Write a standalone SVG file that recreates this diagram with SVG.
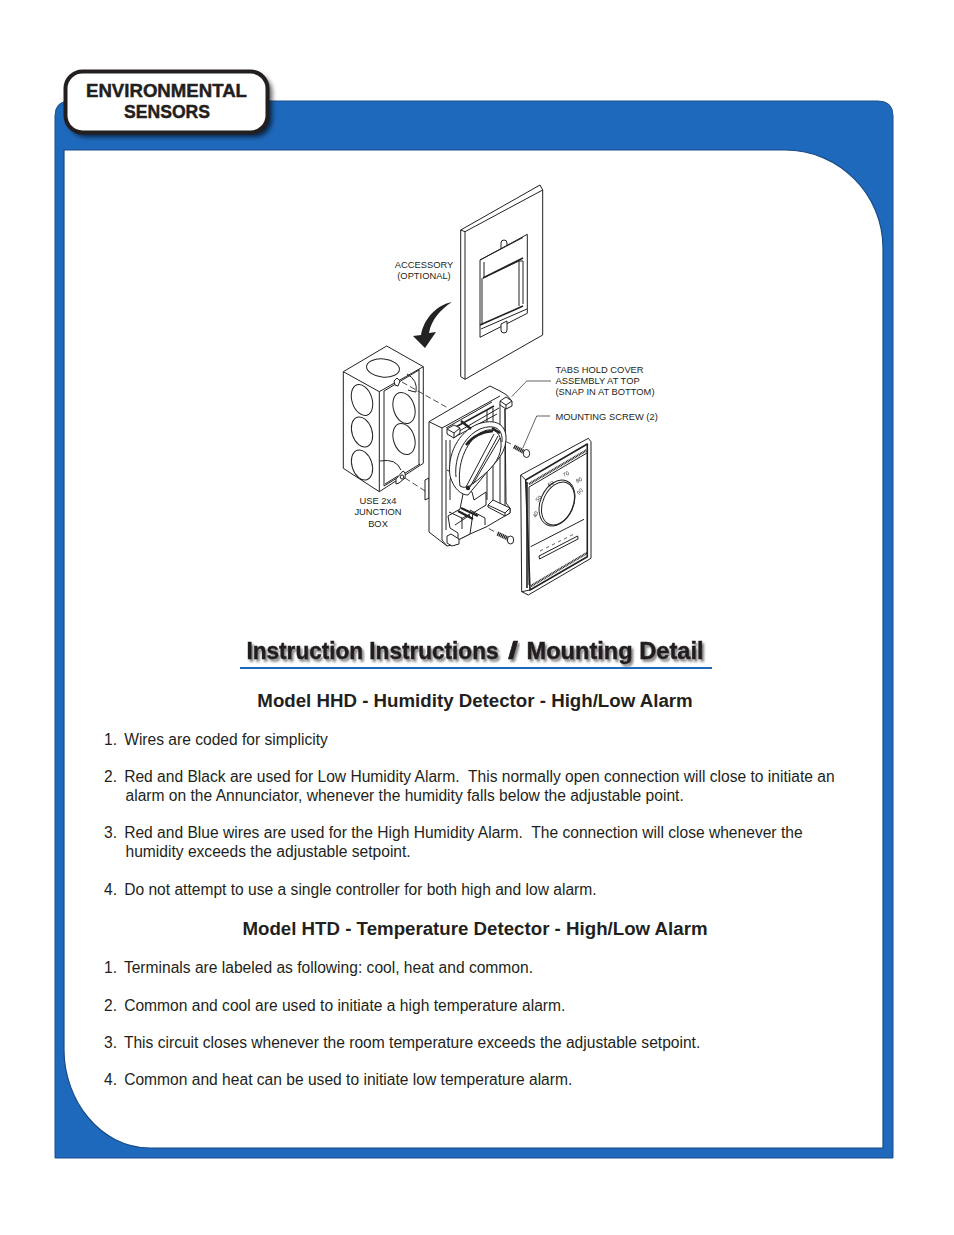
<svg xmlns="http://www.w3.org/2000/svg" width="954" height="1235" viewBox="0 0 954 1235">
<defs>
<filter id="sh" x="-20%" y="-30%" width="140%" height="160%"><feGaussianBlur stdDeviation="2.5"/></filter>
<filter id="tsh" x="-5%" y="-30%" width="110%" height="170%"><feDropShadow dx="2" dy="2.500" stdDeviation="1.300" flood-color="#000" flood-opacity=".5"/></filter>
<filter id="soft" x="-2%" y="-2%" width="104%" height="104%"><feGaussianBlur stdDeviation=".35"/></filter>
</defs>
<style>
text{font-family:"Liberation Sans",Arial,sans-serif;fill:#231f20}
.b{font-size:15.600px;white-space:pre}
.h{font-size:18.700px;font-weight:bold;text-anchor:middle}
.s{font-size:9.350px;text-anchor:middle}
.l{font-size:9.350px}
.t{font-size:23.500px;font-weight:bold;stroke:#231f20;stroke-width:.45;filter:url(#tsh)}
.e{font-size:18.500px;font-weight:bold;stroke:#231f20;stroke-width:.45}
.a path,.a line,.a ellipse{fill:none;stroke:#222;stroke-width:1;stroke-linejoin:round}
.a .f{fill:#fff}
.a .k{fill:#222;stroke:none}
.a .d{stroke-dasharray:6 3;stroke-width:.8}
.a .n{stroke-width:.7}
.a .w{stroke-width:1.600}
.a .x{stroke-width:2.400}
.a .sw{stroke-width:4.200;stroke-dasharray:1.300 .5}
.m{font-size:5.500px}
</style>
<rect width="954" height="1235" fill="#fff"/>
<g id="panel">
<path d="M55 116Q55 101 70 101H878Q893 101 893 116V1158H55Z" fill="#1f69bc" stroke="#1b4f8c" stroke-width="1"/>
<path d="M64 150H785C840 150 883 195 883 248V1148H150C100 1148 64 1100 64 1050Z" fill="#fff" stroke="#174a85" stroke-width="1.200"/>
</g>
<g id="tab">
<rect x="69" y="75" width="203" height="62" rx="17" fill="#000" opacity=".65" filter="url(#sh)"/>
<rect x="65.500" y="71.500" width="202" height="61" rx="17" fill="#fff" stroke="#231f20" stroke-width="4"/>
<text class="e" x="86" y="97" textLength="161" lengthAdjust="spacingAndGlyphs">ENVIRONMENTAL</text>
<text class="e" x="124" y="118" textLength="86" lengthAdjust="spacingAndGlyphs">SENSORS</text>
</g>
<g id="illustration" class="a" filter="url(#soft)">
<g id="plate">
<path class="f" d="M460.700 230L540 185L542.700 190V335L465 379.300L460.700 376.700Z"/>
<path d="M460.700 230L465 231.700L542.700 190M465 231.700V379.300"/>
<path d="M501 249V243Q501 240 504 240Q507 240 507 243V246"/>
<path d="M480 260L527.300 234.300V313.300L480 337.300Z"/>
<path d="M480 260L523 237.500M483 278L519 261V306M484 262L484 278M519 261H523V304"/>
<path class="w" d="M483 278L523 258"/>
<path d="M482 278V325"/>
<path class="w" d="M480 325L523 306"/>
<path d="M481 329L527 309"/>
<path class="f" d="M501 324L507 321V330Q507 333 504 333Q501 333 501 330Z"/>
</g>
<path class="k" d="M452 302C437 305 424 318 421 335L413 336L425 348L436 332L429 333C431 320 441 309 452 302Z"/>
<g id="junction">
<path class="f" d="M343.300 371.700L386.700 346L423.300 366.700V463.300L379.300 491.700L343.300 468.300Z"/>
<path d="M343.300 371.700L379.300 391.700L423.300 366.700M379.300 391.700V491.700"/>
<path d="M419 369V465M419 370L384 391V486M384 486L420 464"/>
<ellipse cx="383" cy="368" rx="16.500" ry="9" transform="rotate(6 383 368)"/>
<ellipse cx="362" cy="400" rx="10" ry="16" transform="rotate(-18 362 400)"/>
<ellipse cx="362" cy="432" rx="10" ry="15.500" transform="rotate(-18 362 432)"/>
<ellipse cx="362" cy="465" rx="10" ry="15.500" transform="rotate(-18 362 465)"/>
<ellipse cx="404" cy="408" rx="10.500" ry="16" transform="rotate(-18 404 408)"/>
<ellipse cx="404" cy="439" rx="10.500" ry="16" transform="rotate(-18 404 439)"/>
<path d="M380 461Q396 458 401 470M385 484L398 476M407 374Q418 380 416 392Q414 392 408 390"/>
<path class="f" d="M394 381L397 378L400 381L398 386L395 385Z"/>
<path class="f" d="M396 479L403 471Q406 472 405 478L399 483L396 484Z"/>
<ellipse cx="402" cy="477" rx="1.800" ry="2"/>
</g>
<g id="leaders">
<line class="d" x1="402" y1="382" x2="448" y2="408"/>
<line class="d" x1="405" y1="478" x2="425" y2="491"/>
<line class="d" x1="465" y1="422" x2="513" y2="445"/>
<line class="d" x1="473" y1="520" x2="497" y2="533"/>
</g>
<g id="base">
<path class="f" d="M425 480L429 478V498L425 500Z"/>
<path class="f" d="M429 421.700L490 386L500 391L506.700 395L511 400V406L505 409L506 503L510 508V513L486 527L470 534L458 540V544L447 546L429 532Z"/>
<path d="M429 421.700L442 428V540L447 546M442 428L500 396M446 428L492 402"/>
<path d="M446 440V530M450 440V470M447 470Q453 472 450 480L450 500"/>
<path d="M456 433L499 408M453 438L497 414"/>
<path class="w" d="M454 428L494 406"/>
<path d="M487 410V500M493 408V500M500 404V505M505 409V510"/>
<path class="f" d="M447 429L454 425L460 428V433L454 438L447 434Z"/>
<path d="M447 429L454 433V438M454 433L460 428"/>
<path class="f" d="M500 401L506 397L512 401V406L506 409L500 405Z"/>
<path d="M500 401L506 405V409M506 405L512 401"/>
<path class="f" d="M448 516L460 509L463 494Q466 488 472 492L474 500L486 492V505L473 513L470 534L458 540V533L450 528Z"/>
<path d="M449 512L462 518V529M461 519L470 514M455 525L470 515"/>
<path class="x" d="M461 508L478 516M458 511L473 519" stroke-width="1.400"/>
<path class="f" d="M488 505L493 500L510 508V513L505 516L488 507Z"/>
<path d="M488 505L505 513V516M505 513L510 508"/>
<path class="f" d="M447 536L451 534L459 539V544L452 546L447 543Z"/>
<path d="M470 510L485 518V525"/>
<path class="f" d="M450 476C447 455 458 432 478 424C495 418 507 424 506 440C505 457 490 467 483 477L468 495C462 495 454 490 450 476Z"/>
<path d="M456 477C454 458 463 437 480 429C496 423 503 430 502 442"/>
<path class="f" d="M460 486C457 465 465 443 480 433C494 425 502 433 501 447C500 460 490 470 480 478C473 484 466 490 460 486Z"/>
<path class="x" d="M466 445Q476 432 493 431"/>
<path d="M466 487L494 434M470 487L498 436M473 484L500 438"/>
<ellipse class="k" cx="468" cy="488" rx="2.200" ry="2.200"/>
<path class="x" d="M461 421L471 429M492 428L500 433"/>
</g>
<g id="screws">
<line class="sw" x1="514" y1="446.500" x2="525" y2="452.500"/>
<ellipse class="f" cx="526.500" cy="453.500" rx="3.200" ry="4" stroke-width="1.300"/>
<line class="sw" x1="497.500" y1="533.500" x2="509" y2="539"/>
<ellipse class="f" cx="510.500" cy="540" rx="3.200" ry="4" stroke-width="1.300"/>
</g>
<g id="cover">
<path class="f" d="M520.700 475L588.300 438.300L591 441.700V558.300L528.300 595L521.700 591.700Z"/>
<path class="w" d="M525.700 480L587.300 444V556.700L530 590Z"/>
<path d="M520.700 475L525.700 480M521.700 591.700L530 590"/>
<path class="x" d="M529 484L587 450" stroke-dasharray="1 .6" stroke="#555"/>
<path d="M529 487L587 453M529 487V585"/>
<path class="x" d="M531 586L587 553" stroke-dasharray="1 .6" stroke="#555"/>
<path class="w" d="M527 482V588"/>
<ellipse cx="557" cy="503" rx="16.500" ry="24" transform="rotate(24 557 503)"/>
<ellipse cx="558" cy="503.500" rx="15" ry="22.500" transform="rotate(24 558 503.500)"/>
<path d="M530.700 546.700L584 519.300"/>
<path d="M539 556L577.700 536L578 539L539.500 559Z"/>
<path class="n" stroke-width="2" d="M540 551L543 549.500M546 548L549 546.500M552 545L555 543.500M558 542L561 540.500M564 539L567 537.500M570 536L573 534.500"/>
<text class="m" x="536" y="518" transform="rotate(-65 536 518)">40</text>
<text class="m" x="538" y="502" transform="rotate(-50 538 502)">50</text>
<text class="m" x="549" y="487" transform="rotate(-30 549 487)">60</text>
<text class="m" x="564" y="477" transform="rotate(-25 564 477)">70</text>
<text class="m" x="577" y="483" transform="rotate(-25 577 483)">80</text>
<text class="m" x="579" y="495" transform="rotate(-45 579 495)">90</text>
</g>
<path class="n" d="M511.700 396.700L526.700 381H551"/>
<path class="n" d="M522.700 448.300L536.700 416H550"/>
</g>
<g id="callouts">
<text class="s" x="424" y="268">ACCESSORY</text>
<text class="s" x="424" y="279">(OPTIONAL)</text>
<text class="l" x="555.500" y="373">TABS HOLD COVER</text>
<text class="l" x="555.500" y="384">ASSEMBLY AT TOP</text>
<text class="l" x="555.500" y="395">(SNAP IN AT BOTTOM)</text>
<text class="l" x="555.500" y="420">MOUNTING SCREW (2)</text>
<text class="s" x="378" y="504">USE 2x4</text>
<text class="s" x="378" y="515">JUNCTION</text>
<text class="s" x="378" y="527">BOX</text>
</g>
<g id="title">
<text class="t" x="246.500" y="658.500" textLength="252" lengthAdjust="spacingAndGlyphs">Instruction Instructions</text>
<text class="t" x="508" y="658.500" textLength="10" lengthAdjust="spacingAndGlyphs">/</text>
<text class="t" x="526.500" y="658.500" textLength="177" lengthAdjust="spacingAndGlyphs">Mounting Detail</text>
<rect x="240" y="667" width="472" height="2" fill="#1f69bc"/>
</g>
<g id="text">
<text class="h" x="475" y="707">Model HHD - Humidity Detector - High/Low Alarm</text>
<text class="b" x="104" y="744.500">1.  <tspan dx="-1.500">Wires are coded for simplicity</tspan></text>
<text class="b" x="104" y="781.500">2.  <tspan dx="-1.500">Red and Black are used for Low Humidity Alarm.  This normally open connection will close to initiate an</tspan></text>
<text class="b" x="125.500" y="800.500">alarm on the Annunciator, whenever the humidity falls below the adjustable point.</text>
<text class="b" x="104" y="838">3.  <tspan dx="-1.500">Red and Blue wires are used for the High Humidity Alarm.  The connection will close whenever the</tspan></text>
<text class="b" x="125.500" y="856.500">humidity exceeds the adjustable setpoint.</text>
<text class="b" x="104" y="894.500">4.  <tspan dx="-1.500">Do not attempt to use a single controller for both high and low alarm.</tspan></text>
<text class="h" x="475" y="935">Model HTD - Temperature Detector - High/Low Alarm</text>
<text class="b" x="104" y="972.500">1.  <tspan dx="-1.500">Terminals are labeled as following: cool, heat and common.</tspan></text>
<text class="b" x="104" y="1010.500">2.  <tspan dx="-1.500">Common and cool are used to initiate a high temperature alarm.</tspan></text>
<text class="b" x="104" y="1047.500">3.  <tspan dx="-1.500">This circuit closes whenever the room temperature exceeds the adjustable setpoint.</tspan></text>
<text class="b" x="104" y="1084.500">4.  <tspan dx="-1.500">Common and heat can be used to initiate low temperature alarm.</tspan></text>
</g>
</svg>
